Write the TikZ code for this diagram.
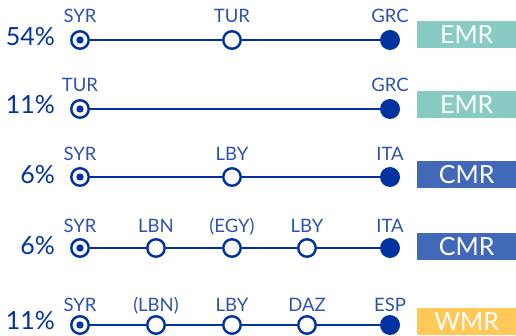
\documentclass[tikz,border=0pt]{standalone}
\usepackage{fontspec}
\setmainfont{Lato}
\definecolor{routeblue}{HTML}{0033A0}
\definecolor{labelblue}{HTML}{2F52AE}
\definecolor{emrgreen}{HTML}{88CBC3}
\definecolor{cmrblue}{HTML}{4268B8}
\definecolor{wmryellow}{HTML}{FFC857}
\tikzset{
  stop/.style={circle, draw=routeblue, line width=2.4pt, fill=white, minimum size=17.5pt, inner sep=0pt},
  start/.style={stop, path picture={\fill[routeblue] (path picture bounding box.center) circle (3.7pt);}},
  dest/.style={circle, fill=routeblue, minimum size=20pt, inner sep=0pt},
  route/.style={draw=routeblue, line width=1.5pt},
  lab/.style={anchor=base, text=labelblue, inner sep=0pt, font=\fontsize{18.5}{18.5}\selectfont},
  share/.style={anchor=east, text=routeblue, inner sep=0pt, font=\fontsize{25}{25}\selectfont},
  region/.style={anchor=west, minimum width=99pt, minimum height=27pt, inner sep=0pt, text=white, font=\fontsize{25}{25}\selectfont},
}
\begin{document}
\begin{tikzpicture}[x=1pt, y=-1pt]
  \useasboundingbox (0,0) rectangle (516,336);
  % row 1
  \node[share] (p1) at (55,37) {54\%};
  \node[start] (a1) at (80,40) {};
  \node[stop] (b1) at (232,40) {};
  \node[dest] (c1) at (390,40) {};
  \draw[route] (a1) -- (b1) -- (c1);
  \node[lab] (ta1) at (80,23) {SYR};
  \node[lab] (tb1) at (232,23) {TUR};
  \node[lab] (tc1) at (390,23) {GRC};
  \node[region, fill=emrgreen] (r1) at (417,34.5) {EMR};
  % row 2
  \node[share] (p2) at (55,105) {11\%};
  \node[start] (a2) at (80,109) {};
  \node[dest] (c2) at (390,109) {};
  \draw[route] (a2) -- (c2);
  \node[lab] (ta2) at (80,92) {TUR};
  \node[lab] (tc2) at (390,92) {GRC};
  \node[region, fill=emrgreen] (r2) at (417,105) {EMR};
  % row 3
  \node[share] (p3) at (55,175) {6\%};
  \node[start] (a3) at (80,177) {};
  \node[stop] (b3) at (232,177) {};
  \node[dest] (c3) at (390,177) {};
  \draw[route] (a3) -- (b3) -- (c3);
  \node[lab] (ta3) at (80,161) {SYR};
  \node[lab] (tb3) at (232,161) {LBY};
  \node[lab] (tc3) at (390,161) {ITA};
  \node[region, fill=cmrblue] (r3) at (417,174.5) {CMR};
  % row 4
  \node[share] (p4) at (55,246) {6\%};
  \node[start] (a4) at (80,248) {};
  \node[stop] (b4) at (156,248) {};
  \node[stop] (c4) at (232,248) {};
  \node[stop] (d4) at (307,248) {};
  \node[dest] (e4) at (390,248) {};
  \draw[route] (a4) -- (b4) -- (c4) -- (d4) -- (e4);
  \node[lab] (ta4) at (80,233) {SYR};
  \node[lab] (tb4) at (156,233) {LBN};
  \node[lab] (tc4) at (232,233) {(EGY)};
  \node[lab] (td4) at (307,233) {LBY};
  \node[lab] (te4) at (390,233) {ITA};
  \node[region, fill=cmrblue] (r4) at (417,247) {CMR};
  % row 5
  \node[share] (p5) at (55,321) {11\%};
  \node[start] (a5) at (80,325) {};
  \node[stop] (b5) at (156,325) {};
  \node[stop] (c5) at (232,325) {};
  \node[stop] (d5) at (307,325) {};
  \node[dest] (e5) at (390,325) {};
  \draw[route] (a5) -- (b5) -- (c5) -- (d5) -- (e5);
  \node[lab] (ta5) at (80,311) {SYR};
  \node[lab] (tb5) at (156,311) {(LBN)};
  \node[lab] (tc5) at (232,311) {LBY};
  \node[lab] (td5) at (307,311) {DAZ};
  \node[lab] (te5) at (390,311) {ESP};
  \node[region, fill=wmryellow] (r5) at (417,321.5) {WMR};
\end{tikzpicture}
\end{document}
